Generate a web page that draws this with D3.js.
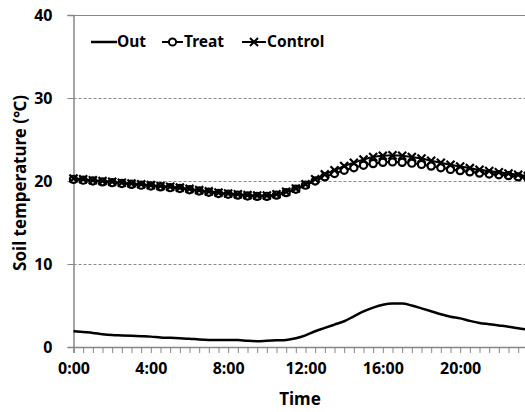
<!DOCTYPE html>
<html>
<head>
<meta charset="utf-8">
<script src="https://cdn.jsdelivr.net/npm/d3@7"></script>
<style>
  body { margin: 0; background: #fff; }
  svg { display: block; font-family: "Noto Sans", "DejaVu Sans", sans-serif; font-weight: 700; }
</style>
</head>
<body>
<svg id="chart" width="525" height="412"></svg>
<script>
// half-hour readings, 0:00 .. 23:30
const hours = d3.range(0, 24, 0.5);
const outTemp = [1.9, 1.8, 1.7, 1.55, 1.45, 1.4, 1.35, 1.3, 1.25, 1.15, 1.1, 1.05,
  1.0, 0.9, 0.85, 0.85, 0.85, 0.85, 0.75, 0.7, 0.75, 0.8, 0.85, 1.05,
  1.4, 1.9, 2.3, 2.7, 3.1, 3.7, 4.3, 4.75, 5.1, 5.25, 5.25, 5.0,
  4.65, 4.3, 3.95, 3.65, 3.45, 3.15, 2.9, 2.75, 2.6, 2.45, 2.25, 2.1];
const treatTemp = [20.2, 20.1, 20.0, 19.9, 19.8, 19.7, 19.6, 19.5, 19.4, 19.3, 19.2, 19.1,
  18.95, 18.8, 18.65, 18.5, 18.4, 18.3, 18.2, 18.15, 18.15, 18.3, 18.6, 19.0,
  19.5, 20.0, 20.5, 20.9, 21.3, 21.6, 21.9, 22.1, 22.25, 22.3, 22.25, 22.15,
  22.0, 21.8, 21.6, 21.4, 21.25, 21.1, 20.95, 20.85, 20.75, 20.65, 20.5, 20.4];
const controlTemp = [20.3, 20.2, 20.1, 20.0, 19.9, 19.8, 19.7, 19.6, 19.5, 19.4, 19.3, 19.2,
  19.05, 18.9, 18.75, 18.6, 18.5, 18.4, 18.3, 18.25, 18.25, 18.4, 18.7, 19.1,
  19.6, 20.2, 20.8, 21.3, 21.8, 22.2, 22.6, 22.9, 23.05, 23.1, 23.05, 22.9,
  22.7, 22.45, 22.2, 21.95, 21.75, 21.55, 21.35, 21.2, 21.05, 20.9, 20.75, 20.6];
const xLabels = ["0:00", "4:00", "8:00", "12:00", "16:00", "20:00"];
const yTicks = [0, 10, 20, 30, 40];

const svg = d3.select("#chart");
const axisColor = "#868686";

const x = d3.scaleLinear().domain([0, 24]).range([73.5, 537.5]);
const y = d3.scaleLinear().domain([0, 40]).range([347, 15]);

// grid lines
svg.selectAll("line.grid")
  .data([10, 20, 30])
  .enter()
  .append("line")
  .attr("class", "grid")
  .attr("x1", x(0)).attr("x2", 525)
  .attr("y1", d => Math.round(y(d)) + 0.5).attr("y2", d => Math.round(y(d)) + 0.5)
  .attr("stroke", "#8a8a8a")
  .attr("stroke-dasharray", "3,2");

svg.append("line")
  .attr("x1", 68).attr("x2", 525)
  .attr("y1", 15.5).attr("y2", 15.5)
  .attr("stroke", axisColor);

// y axis
const yAxis = d3.axisLeft(y).tickValues(yTicks).tickSize(6).tickPadding(15);
const gy = svg.append("g").attr("transform", "translate(73.5,0)").call(yAxis);
gy.select(".domain").attr("stroke", axisColor).attr("stroke-width", 1.5);
gy.selectAll(".tick line").attr("stroke", axisColor);
gy.selectAll(".tick text")
  .attr("fill", "#000")
  .style("font-size", "16px")
  .style("font-family", "'Noto Sans', sans-serif")
  .style("font-weight", 700);

// x axis
const xAxis = d3.axisBottom(x)
  .tickValues(d3.range(0, 24.5, 0.5))
  .tickSize(6)
  .tickPadding(10)
  .tickFormat(d => (d % 4 === 0 && d < 24) ? xLabels[d / 4] : "");
const gx = svg.append("g").attr("transform", "translate(0,347)").call(xAxis);
gx.select(".domain").attr("stroke", axisColor).attr("stroke-width", 1.5);
gx.selectAll(".tick line").attr("stroke", axisColor);
gx.selectAll(".tick text")
  .attr("fill", "#000")
  .style("font-size", "16px")
  .style("font-family", "'Noto Sans', sans-serif")
  .style("font-weight", 700);

// axis titles
svg.append("text")
  .attr("x", 300).attr("y", 405)
  .attr("text-anchor", "middle")
  .style("font-size", "17px")
  .text("Time");

svg.append("text")
  .attr("transform", "translate(26,183) rotate(-90)")
  .attr("text-anchor", "middle")
  .style("font-size", "17px")
  .text("Soil temperature (℃)");

// series
const line = d3.line().x((d, i) => x(hours[i])).y(d => y(d)).curve(d3.curveMonotoneX);

svg.append("path")
  .datum(outTemp)
  .attr("d", line)
  .attr("fill", "none")
  .attr("stroke", "#000")
  .attr("stroke-width", 2.5);

function drawSeries(data, marker) {
  svg.append("path")
    .datum(data)
    .attr("d", line)
    .attr("fill", "none")
    .attr("stroke", "#000")
    .attr("stroke-width", 2);
  const g = svg.append("g");
  if (marker === "circle") {
    g.selectAll("circle")
      .data(data)
      .enter()
      .append("circle")
      .attr("cx", (d, i) => x(hours[i]))
      .attr("cy", d => y(d))
      .attr("r", 3.6)
      .attr("fill", "#fff")
      .attr("stroke", "#000")
      .attr("stroke-width", 2.2);
  } else {
    g.selectAll("path")
      .data(data)
      .enter()
      .append("path")
      .attr("d", (d, i) => {
        const cx = x(hours[i]), cy = y(d), s = 4;
        return `M${cx - s},${cy - s}L${cx + s},${cy + s}M${cx - s},${cy + s}L${cx + s},${cy - s}`;
      })
      .attr("stroke", "#000")
      .attr("stroke-width", 2.2);
  }
}

drawSeries(treatTemp, "circle");
drawSeries(controlTemp, "cross");

// legend
const legY = 42;
const leg = svg.append("g");
leg.append("line").attr("x1", 91).attr("x2", 117).attr("y1", legY).attr("y2", legY)
  .attr("stroke", "#000").attr("stroke-width", 2.5);
leg.append("text").attr("x", 117).attr("y", legY + 5).style("font-size", "15.5px").text("Out");

leg.append("line").attr("x1", 162).attr("x2", 183).attr("y1", legY).attr("y2", legY)
  .attr("stroke", "#000").attr("stroke-width", 2);
leg.append("circle").attr("cx", 172.5).attr("cy", legY).attr("r", 3.6)
  .attr("fill", "#fff").attr("stroke", "#000").attr("stroke-width", 2);
leg.append("text").attr("x", 184).attr("y", legY + 5).style("font-size", "15.5px").text("Treat");

leg.append("line").attr("x1", 242).attr("x2", 266).attr("y1", legY).attr("y2", legY)
  .attr("stroke", "#000").attr("stroke-width", 2);
leg.append("path")
  .attr("d", "M250,38L258,46M250,46L258,38")
  .attr("stroke", "#000").attr("stroke-width", 2);
leg.append("text").attr("x", 267).attr("y", legY + 5).style("font-size", "15.5px").text("Control");
</script>
</body>
</html>
